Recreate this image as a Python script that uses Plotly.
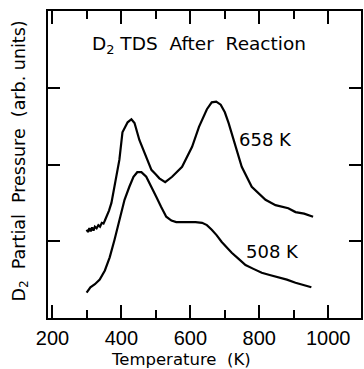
import plotly.graph_objects as go

# Upper curve: reaction at 658 K
t_658 = [299, 303, 307, 311, 315, 319, 323, 328, 333, 338, 343, 348, 352, 357, 364, 371, 378, 386, 394,
         403, 418, 429, 438, 452, 472, 487, 500, 510, 527, 547, 576, 596, 605, 625, 634, 648, 662,
         675, 688, 700, 711, 732, 749, 778, 798, 818, 847, 884, 905, 930, 956]
p_658 = [1.15, 1.12, 1.17, 1.13, 1.18, 1.14, 1.19, 1.17, 1.21, 1.19, 1.24, 1.23, 1.27, 1.32, 1.40, 1.50, 1.68, 1.89, 2.06,
         2.42, 2.55, 2.59, 2.54, 2.32, 2.10, 1.93, 1.87, 1.82, 1.77, 1.84, 1.97, 2.16, 2.23, 2.49, 2.58, 2.72, 2.81,
         2.82, 2.78, 2.68, 2.54, 2.23, 1.97, 1.71, 1.63, 1.54, 1.47, 1.43, 1.38, 1.36, 1.32]

# Lower curve: reaction at 508 K
t_508 = [299, 310, 323, 337, 352, 366, 380, 394, 409, 423, 435, 446, 458, 472, 486, 501, 515, 530, 545, 559,
         578, 596, 615, 634, 648, 662, 676, 691, 705, 720, 740, 760, 783, 807, 830, 856, 880, 905, 928, 951]
p_508 = [0.33, 0.40, 0.44, 0.50, 0.62, 0.79, 1.02, 1.28, 1.54, 1.71, 1.84, 1.90, 1.90, 1.84, 1.72, 1.58, 1.45, 1.32, 1.27, 1.25,
         1.25, 1.25, 1.25, 1.24, 1.21, 1.15, 1.08, 0.99, 0.92, 0.85, 0.77, 0.69, 0.64, 0.59, 0.56, 0.53, 0.50, 0.46, 0.43, 0.40]

x_tickvals = [200, 400, 600, 800, 1000]
x_ticktext = ["200", "400", "600", "800", "1000"]
y_tickvals = [1, 2, 3]

FONT = "Liberation Sans"
TFONT = "DejaVu Sans"

fig = go.Figure()
fig.add_trace(go.Scatter(x=t_658, y=p_658, mode="lines",
                         line=dict(color="black", width=2.2), showlegend=False))
fig.add_trace(go.Scatter(x=t_508, y=p_508, mode="lines",
                         line=dict(color="black", width=2.2), showlegend=False))

fig.update_layout(
    width=364, height=369,
    margin=dict(l=48, r=1, t=11, b=51),
    paper_bgcolor="white", plot_bgcolor="white",
    font=dict(family=FONT, color="black"),
    showlegend=False,
)

fig.update_xaxes(
    range=[187, 1095],
    tickvals=x_tickvals, ticktext=x_ticktext,
    ticks="inside", ticklen=13, tickwidth=1.5, tickcolor="black",
    minor=dict(dtick=100, tick0=0, ticks="inside", ticklen=8, tickwidth=1.5, tickcolor="black"),
    showline=True, linecolor="black", linewidth=2, mirror="ticks",
    showgrid=False, zeroline=False,
    tickfont=dict(family=FONT, size=20, color="black"),
    ticklabelstandoff=1,
)
fig.update_yaxes(
    range=[0, 4],
    tickvals=y_tickvals, showticklabels=False,
    ticks="inside", ticklen=12, tickwidth=1.5, tickcolor="black",
    showline=True, linecolor="black", linewidth=2, mirror="ticks",
    showgrid=False, zeroline=False,
)

annots = [
    dict(x=624, y=3.56, xref="x", yref="y", text="D<sub>2</sub> TDS  After  Reaction",
         font=dict(size=18.5)),
    dict(x=818, y=2.33, xref="x", yref="y", text="658 K", font=dict(size=18)),
    dict(x=838, y=0.87, xref="x", yref="y", text="508 K", font=dict(size=18)),
    dict(x=0.425, y=-0.134, xref="paper", yref="paper", text="Temperature  (K)",
         font=dict(size=16.5)),
    dict(x=-0.089, y=0.51, xref="paper", yref="paper", textangle=-90,
         text="D<sub>2</sub>  Partial  Pressure  (arb. units)", font=dict(size=17.5)),
]
for a in annots:
    a.update(showarrow=False, xanchor="center", yanchor="middle")
    a["font"].update(family=TFONT, color="black")
    fig.add_annotation(**a)

fig.write_html("out.html")
